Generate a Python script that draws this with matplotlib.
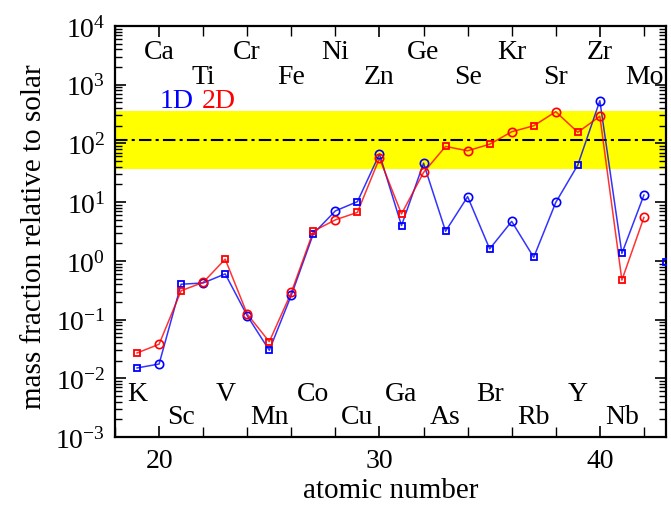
import matplotlib
matplotlib.use("Agg")
import matplotlib.pyplot as plt
import numpy as np
from matplotlib.ticker import LogLocator, MultipleLocator, NullFormatter

plt.rcParams['font.family'] = ['Liberation Serif', 'DejaVu Serif']
plt.rcParams['mathtext.fontset'] = 'custom'
plt.rcParams['mathtext.rm'] = 'Liberation Serif'
plt.rcParams['mathtext.it'] = 'Liberation Serif:italic'

# atomic numbers and element symbols
Z = np.arange(19, 43)
symbols = ['K', 'Ca', 'Sc', 'Ti', 'V', 'Cr', 'Mn', 'Fe', 'Co', 'Ni', 'Cu', 'Zn',
           'Ga', 'Ge', 'As', 'Se', 'Br', 'Kr', 'Rb', 'Sr', 'Y', 'Zr', 'Nb', 'Mo']

# mass fractions relative to solar
frac_1d = [0.015, 0.0175, 0.40, 0.42, 0.60, 0.116, 0.030, 0.26, 2.9, 7.1,
           10.2, 66, 4.0, 46, 3.2, 12.4, 1.6, 4.7, 1.15, 9.9, 43, 534, 1.34, 13.2]
frac_2d = [0.027, 0.038, 0.31, 0.43, 1.07, 0.124, 0.042, 0.29, 3.2, 5.0,
           6.7, 56, 6.3, 32, 89, 75, 97, 158, 200, 347, 155, 290, 0.47, 5.5]
# Tc, only in 1D
z_tc = [43]
frac_tc = [0.97]

# solar-scaled production factor and band
pf_mean = 114
pf_low, pf_high = 37, 356

fig = plt.figure(figsize=(6.71, 5.06), dpi=100)
ax = fig.add_axes([0.1714, 0.1344, 0.8211, 0.8122])

ax.axhspan(pf_low, pf_high, color='#ffff00', zorder=0, lw=0)
ax.axhline(pf_mean, color='black', lw=1.5, dashes=(6, 2, 1.5, 2), zorder=1)

def draw_series(x, y, color):
    x = np.asarray(x)
    y = np.asarray(y)
    ax.plot(x, y, color=color, lw=1.1, alpha=0.8, zorder=2)
    odd = x % 2 == 1
    ax.plot(x[odd], y[odd], 's', ms=5, mfc='none', mec=color, mew=1.3, zorder=3)
    ax.plot(x[~odd], y[~odd], 'o', ms=6, mfc='none', mec=color, mew=1.2, zorder=3)

draw_series(Z, frac_1d, 'blue')
ax.plot(z_tc, frac_tc, 's', ms=5, mfc='none', mec='blue', mew=1.3, zorder=3)
draw_series(Z, frac_2d, 'red')

ax.set_yscale('log')
ax.set_xlim(18, 43)
ax.set_ylim(1e-3, 1e4)

ax.xaxis.set_major_locator(MultipleLocator(10))
ax.xaxis.set_minor_locator(MultipleLocator(2))
ax.yaxis.set_major_locator(LogLocator(base=10, numticks=10))
ax.yaxis.set_minor_locator(LogLocator(base=10, subs=np.arange(2, 10), numticks=20))
ax.yaxis.set_minor_formatter(NullFormatter())

ax.tick_params(which='both', direction='in', top=True, right=True, labelsize=20)
ax.tick_params(which='major', length=8, width=1.2)
ax.tick_params(which='minor', length=5, width=1.0)
ax.tick_params(axis='x', which='minor', length=7)
ax.tick_params(axis='x', pad=8)
ax.tick_params(axis='y', pad=7)
for s in ax.spines.values():
    s.set_linewidth(1.6)

ax.set_xlabel('atomic number', fontsize=21)
ax.xaxis.set_label_coords(0.5, -0.147)
ax.xaxis.label.set_va('baseline')
ax.set_ylabel('mass fraction relative to solar', fontsize=21)
ax.yaxis.set_label_coords(-0.147, 0.49)
ax.yaxis.label.set_va('center')

# element names, even Z on top, odd Z at bottom
for z, name in zip(Z, symbols):
    if z % 2 == 0:
        yf = 0.939 if z % 4 == 0 else 0.878
    else:
        yf = 0.105 if (z - 19) % 4 == 0 else 0.049
    ax.text(z, yf, name, transform=ax.get_xaxis_transform(),
            ha='center', va='center', fontsize=20)

ax.text(20.78, 0.818, '1D', color='blue', transform=ax.get_xaxis_transform(),
        ha='center', va='center', fontsize=20)
ax.text(22.7, 0.818, '2D', color='red', transform=ax.get_xaxis_transform(),
        ha='center', va='center', fontsize=20)

fig.savefig('out.png', dpi=100)
